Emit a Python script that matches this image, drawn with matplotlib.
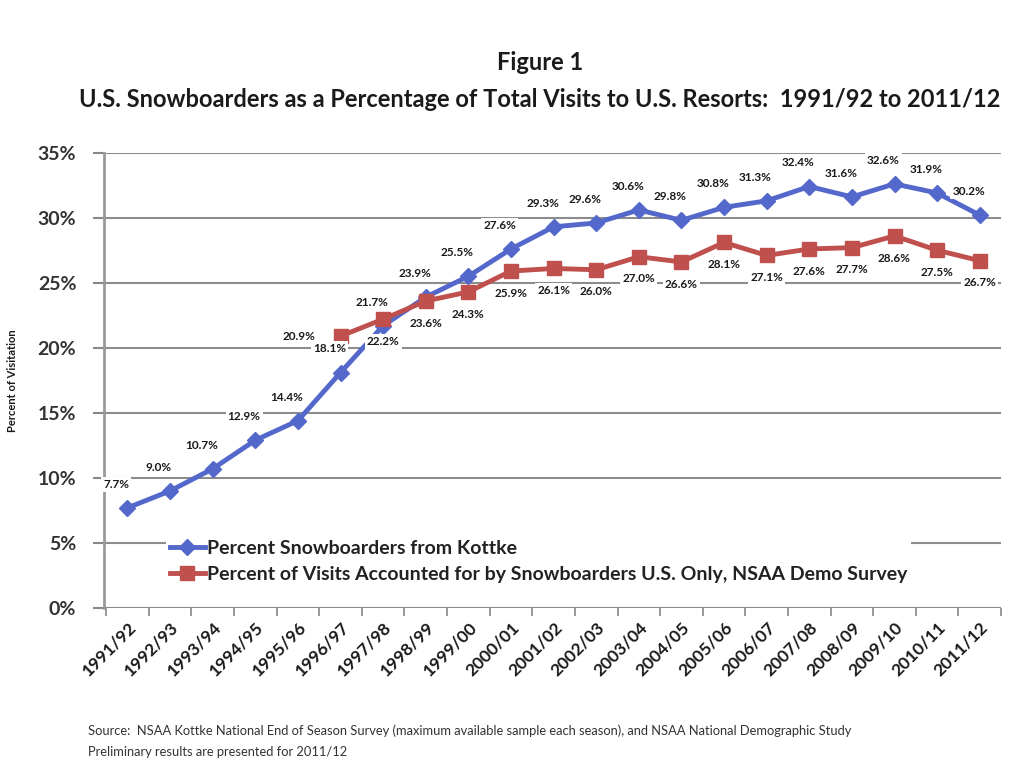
import numpy as np
import matplotlib.pyplot as plt

# seasons and series values
seasons = ['1991/92', '1992/93', '1993/94', '1994/95', '1995/96', '1996/97', '1997/98',
           '1998/99', '1999/00', '2000/01', '2001/02', '2002/03', '2003/04', '2004/05',
           '2005/06', '2006/07', '2007/08', '2008/09', '2009/10', '2010/11', '2011/12']
kottke = [7.7, 9.0, 10.7, 12.9, 14.4, 18.1, 21.7, 23.9, 25.5, 27.6, 29.3, 29.6, 30.6,
          29.8, 30.8, 31.3, 32.4, 31.6, 32.6, 31.9, 30.2]
nsaa_start = 5
nsaa = [20.9, 22.2, 23.6, 24.3, 25.9, 26.1, 26.0, 27.0, 26.6, 28.1, 27.1, 27.6, 27.7,
        28.6, 27.5, 26.7]

blue = '#5468CC'
red = '#C0504D'
txt = '#1a1a1a'
plt.rcParams['font.family'] = ['Lato', 'DejaVu Sans']

fig = plt.figure(figsize=(10.24, 7.83), dpi=100)
ax = fig.add_axes([0.1016, 0.2235, 0.876, 0.5815])

x = np.arange(len(seasons))
xn = np.arange(nsaa_start, nsaa_start + len(nsaa))

ax.plot(x, kottke, color=blue, lw=3.5, marker='D', ms=8, zorder=3,
        label='Percent Snowboarders from Kottke')
ax.plot(xn, nsaa, color=red, lw=3.5, marker='s', ms=10, zorder=3,
        label='Percent of Visits Accounted for by Snowboarders U.S. Only, NSAA Demo Survey')

box = dict(facecolor='white', edgecolor='none', pad=1.5)
for xi, v in zip(x, kottke):
    ax.annotate(f'{v:.1f}%', (xi, v), xytext=(-8, 13), textcoords='offset points',
                ha='center', va='bottom', fontsize=8.5, fontweight='bold', color=txt,
                bbox=box, zorder=4)
for xi, v in zip(xn, nsaa):
    if xi == nsaa_start:
        off, va = (-18, 0), 'center'
    else:
        off, va = (0, -12), 'top'
    ax.annotate(f'{v:.1f}%', (xi, v), xytext=off, textcoords='offset points',
                ha='center' if xi != nsaa_start else 'right', va=va, fontsize=8.5,
                fontweight='bold', color=txt, bbox=box, zorder=4)

ax.set_xlim(-0.55, len(seasons) - 0.5)
ax.set_ylim(0, 35)
ax.set_yticks(np.arange(0, 36, 5))
ax.set_yticklabels([f'{t}%' for t in range(0, 36, 5)], fontsize=14, fontweight='bold',
                   color='#333333')
ax.set_xticks(x)
ax.set_xticklabels(seasons, rotation=45, ha='right', rotation_mode='anchor',
                   fontsize=12.5, fontweight='bold', color=txt)
ax.set_xticks(np.arange(-0.5, len(seasons)), minor=True)
ax.tick_params(axis='x', which='major', length=0, pad=8)
ax.tick_params(axis='x', which='minor', length=6, color='#888888', width=1.2)
ax.tick_params(axis='y', length=8, color='#888888', width=1.5, pad=12)

ax.grid(axis='y', color='#8c8c8c', lw=1.5)
ax.set_axisbelow(True)
for s in ['top', 'right', 'bottom']:
    ax.spines[s].set_visible(False)
ax.spines['left'].set_color('#999999')
ax.spines['left'].set_linewidth(2)

ax.set_ylabel('Percent of Visitation', fontsize=8, fontweight='bold', color=txt,
              labelpad=14)

leg = ax.legend(loc='lower left', bbox_to_anchor=(0.058, 0.025), frameon=True,
                prop={'size': 14, 'weight': 'bold'}, handlelength=1.8,
                handletextpad=0.1, borderpad=0.2, labelspacing=0.45)
leg.get_frame().set_edgecolor('none')
leg.get_frame().set_facecolor('white')
leg.get_frame().set_alpha(1)
for t in leg.get_texts():
    t.set_color('#222222')

fig.text(0.527, 0.911, 'Figure 1', ha='center', fontsize=17, fontweight='bold', color=txt)
fig.text(0.527, 0.863, 'U.S. Snowboarders as a Percentage of Total Visits to U.S. Resorts:  1991/92 to 2011/12',
         ha='center', fontsize=17, fontweight='bold', color=txt)

fig.text(0.086, 0.061, 'Source:  NSAA Kottke National End of Season Survey (maximum available sample each season), and NSAA National Demographic Study',
         fontsize=9.3, color='#333333')
fig.text(0.086, 0.035, 'Preliminary results are presented for 2011/12', fontsize=9.3,
         color='#333333')

fig.savefig('out.png', dpi=100)
